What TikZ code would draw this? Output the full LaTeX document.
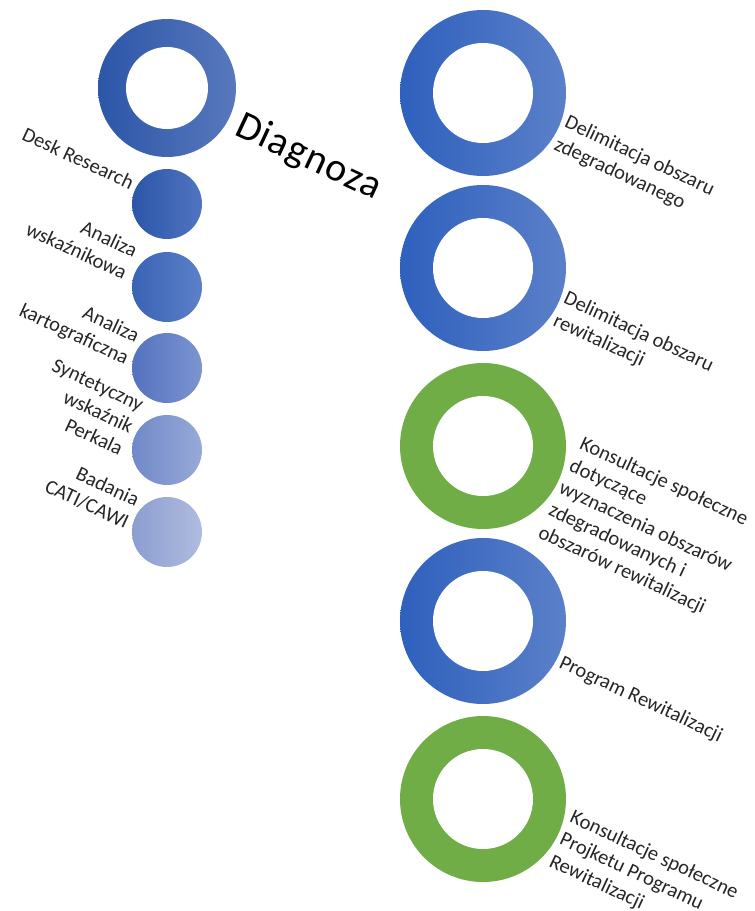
\documentclass[tikz,border=0pt]{standalone}
\usepackage{fontspec}
\setmainfont{Carlito}
\newfontfamily\diagfont[LetterSpace=3]{Carlito}
\usepackage{tikz}
\usetikzlibrary{positioning}

\definecolor{ringblue}{HTML}{2E60BD}
\definecolor{ringblueR}{HTML}{5B80C9}
\definecolor{ringgreen}{HTML}{70AD47}
\definecolor{diagL}{RGB}{44,86,168}
\definecolor{diagR}{RGB}{88,120,188}

\begin{document}
\begin{tikzpicture}[
  x=1pt, y=-1pt,
  disc/.style={circle, inner sep=0pt, draw=none},
  bigring/.style={disc, minimum size=166pt, left color=ringblue, right color=ringblueR},
  greenring/.style={disc, minimum size=166pt, fill=ringgreen},
  hole/.style={disc, fill=white},
  lbl/.style={font=\fontsize{20.5}{24.5}\selectfont, rotate=-25, inner sep=0pt, text=black!85},
  lblL/.style={lbl, align=right, anchor=base east},
  lblR/.style={lbl, align=left, anchor=base west}
]
\useasboundingbox (0,0) rectangle (755,911);

% === Diagnoza column ===
\node[disc, minimum size=138pt, left color=diagL, right color=diagR] (diag) at (167,88) {};
\node[hole, minimum size=82pt] (diagin) at (diag.center) {};
\node[font=\diagfont\fontsize{40}{44}\selectfont, rotate=-25, inner sep=0pt, anchor=base west] (diagtxt) at (233,134) {Diagnoza};

% small circles, lighter towards the bottom
\node[disc, minimum size=70pt, left color={rgb,255:red,44;green,86;blue,168}, right color={rgb,255:red,80;green,116;blue,192}] (c1) at (167,204) {};
\node[disc, minimum size=70pt, left color={rgb,255:red,58;green,99;blue,181}, right color={rgb,255:red,92;green,128;blue,200}] (c2) at (167,287) {};
\node[disc, minimum size=70pt, left color={rgb,255:red,84;green,114;blue,190}, right color={rgb,255:red,124;green,148;blue,208}] (c3) at (167,368) {};
\node[disc, minimum size=70pt, left color={rgb,255:red,112;green,137;blue,200}, right color={rgb,255:red,152;green,169;blue,217}] (c4) at (167,450) {};
\node[disc, minimum size=70pt, left color={rgb,255:red,139;green,157;blue,208}, right color={rgb,255:red,176;green,188;blue,224}] (c5) at (167,532) {};

% labels are anchored on the baseline of their last line
\node[lblL] (t1) at (130,190) {Desk Research};
\node[lblL] (t2) at (123,280) {Analiza\\wskaźnikowa};
\node[lblL] (t3) at (125,365) {Analiza\\kartograficzna};
\node[lblL] (t4) at (119,456) {Syntetyczny\\wskaźnik\\Perkala};
\node[lblL] (t5) at (125,529) {Badania\\CATI/CAWI};

% === Right column ===
\node[bigring] (r1) at (483,93) {};
\node[bigring] (r2) at (483,268) {};
\node[greenring] (r3) at (483,446) {};
\node[bigring] (r4) at (483,621) {};
\node[greenring] (r5) at (483,799) {};
\foreach \r in {r1,r2,r3,r4,r5}
  \node[hole, minimum size=100pt] (\r in) at (\r.center) {};

\node[lblR] (s1) at (553,149) {Delimitacja obszaru\\zdegradowanego};
\node[lblR] (s2) at (552,325) {Delimitacja obszaru\\rewitalizacji};
\node[lblR] (s3) at (537,537) {Konsultacje społeczne\\dotyczące\\wyznaczenia obszarów\\zdegradowanych i\\obszarów rewitalizacji};
\node[lblR] (s4) at (558,667) {Program Rewitalizacji};
\node[lblR] (s5) at (548,866) {Konsultacje społeczne\\Projketu Programu\\Rewitalizacji};

\end{tikzpicture}
\end{document}
